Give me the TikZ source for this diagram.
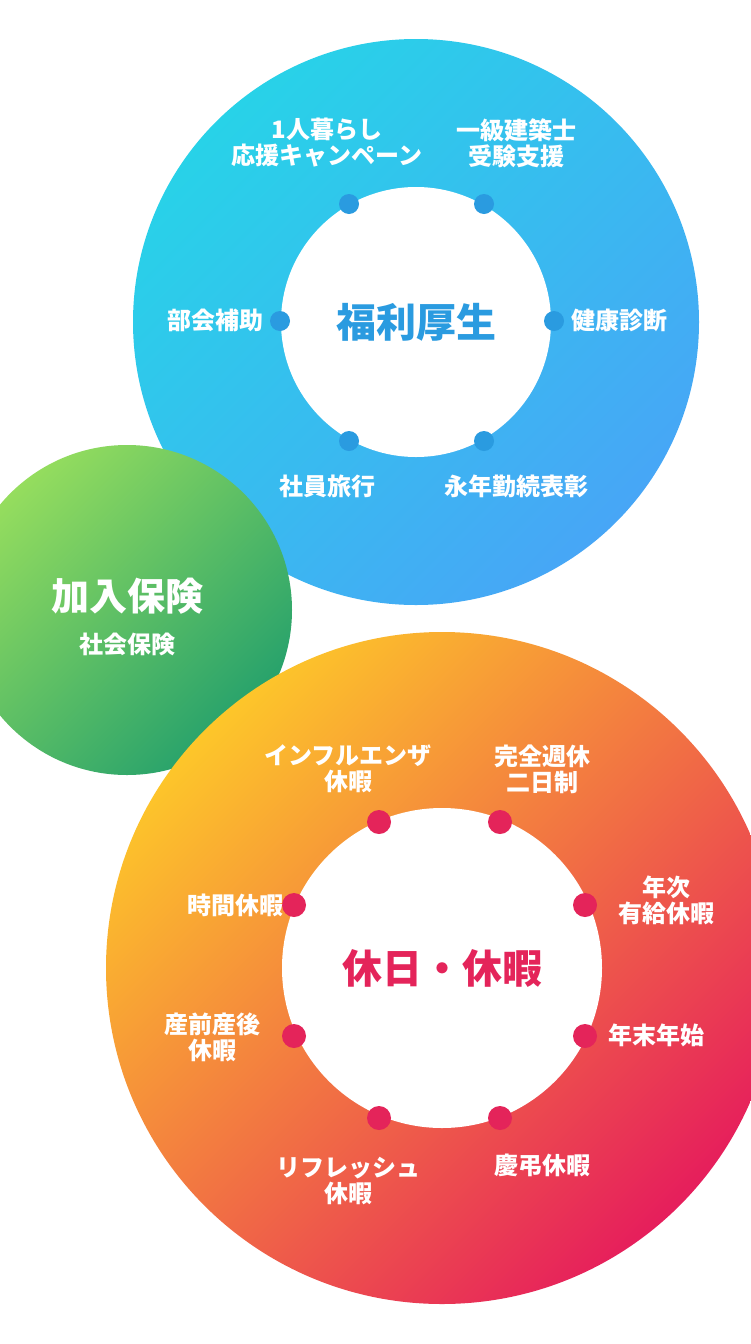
\documentclass[tikz,border=0pt]{standalone}
\usepackage{fontspec}
\setmainfont{Noto Sans CJK JP}
\newfontfamily\jp{Noto Sans CJK JP}
\definecolor{cyanA}{HTML}{28D2E8}
\definecolor{blueB}{HTML}{47A6F6}
\definecolor{greenA}{HTML}{95DD5E}
\definecolor{greenB}{HTML}{24A06C}
\definecolor{yelA}{HTML}{FDC62A}
\definecolor{redB}{HTML}{E61E5C}
\definecolor{bdot}{HTML}{2A9BE0}
\definecolor{rdot}{HTML}{E4245A}
\begin{document}
\begin{tikzpicture}[x=1pt,y=-1pt,
  lab/.style={text=white,font=\jp\fontsize{24}{26}\selectfont\bfseries,align=center,inner sep=0},
  bd/.style={circle,fill=bdot,minimum size=20pt,inner sep=0},
  rd/.style={circle,fill=rdot,minimum size=24pt,inner sep=0}]
\useasboundingbox (0,0) rectangle (750,1344);
\fill[white] (0,0) rectangle (750,1344);
% blue
\shade[left color=cyanA,right color=blueB,shading angle=45] (416,322) circle (283);
\fill[white] (416,322) circle (135);
\node[bd] (b1) at (349,204) {};
\node[bd] (b2) at (484,204) {};
\node[bd] (b3) at (280,321) {};
\node[bd] (b4) at (554,321) {};
\node[bd] (b5) at (349,441) {};
\node[bd] (b6) at (484,441) {};
\node[text=bdot,font=\jp\fontsize{40}{44}\selectfont\bfseries] (bt) at (416,322) {福利厚生};
\node[lab] (l1) at (327,143) {1人暮らし\\応援キャンペーン};
\node[lab] (l2) at (516,143) {一級建築士\\受験支援};
\node[lab,anchor=east] (l3) at (264,320) {部会補助};
\node[lab,anchor=west] (l4) at (571,320) {健康診断};
\node[lab] (l5) at (327,486) {社員旅行};
\node[lab] (l6) at (516,486) {永年勤続表彰};
% green
\shade[left color=greenA,right color=greenB,shading angle=45] (127,610) circle (165);
\node[text=white,font=\jp\fontsize{38}{40}\selectfont\bfseries] (g1) at (127,596) {加入保険};
\node[lab] (g2) at (127,644) {社会保険};
% red
\shade[left color=yelA,right color=redB,shading angle=45] (442,968) circle (336);
\fill[white] (442,968) circle (160);
\node[rd] (r1) at (379,822) {};
\node[rd] (r2) at (500,822) {};
\node[rd] (r3) at (294,905) {};
\node[rd] (r4) at (585,905) {};
\node[rd] (r5) at (294,1036) {};
\node[rd] (r6) at (585,1036) {};
\node[rd] (r7) at (379,1118) {};
\node[rd] (r8) at (500,1118) {};
\node[text=rdot,font=\jp\fontsize{40}{44}\selectfont\bfseries] (rt) at (442,968) {休日・休暇};
\node[lab] (m1) at (348,769) {インフルエンザ\\休暇};
\node[lab] (m2) at (542,769) {完全週休\\二日制};
\node[lab,anchor=east] (m3) at (284,905) {時間休暇};
\node[lab] (m4) at (666,900) {年次\\有給休暇};
\node[lab] (m5) at (212,1037) {産前産後\\休暇};
\node[lab,anchor=west] (m6) at (608,1035) {年末年始};
\node[lab] (m7) at (348,1181) {リフレッシュ\\休暇};
\node[lab] (m8) at (542,1165) {慶弔休暇};
\end{tikzpicture}
\end{document}
